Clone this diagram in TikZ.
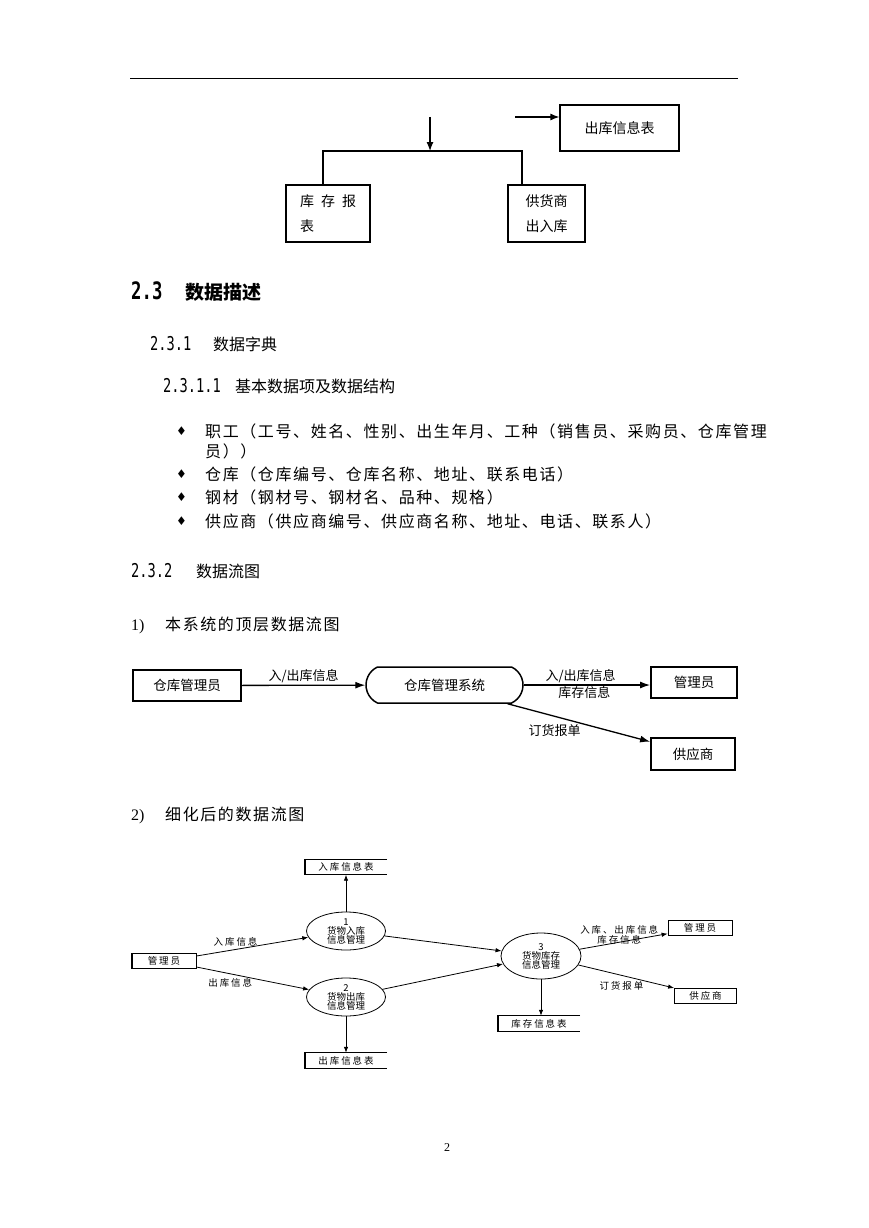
\documentclass[tikz,border=0pt]{standalone}
\usepackage{fontspec}
\setmainfont{Noto Sans CJK SC}
\newfontfamily\bodyfont{Noto Sans CJK SC}[LetterSpace=10]
\newfontfamily\dfdfont{Noto Sans CJK SC}[LetterSpace=20]
\newfontfamily\headnum{DejaVu Sans Mono}[FakeStretch=0.72]
\newfontfamily\numfont{Liberation Serif}
\newfontfamily\symfont{DejaVu Sans}
\usetikzlibrary{arrows.meta,positioning,shapes.geometric,shapes.misc}

\begin{document}
\begin{tikzpicture}[x=1pt,y=-1pt,>=Latex,line join=miter,
  frag/.style={draw,line width=1.2pt,inner sep=0pt,align=left,font=\fontsize{14}{25}\selectfont},
  dfbox/.style={draw,line width=1.8pt,inner sep=0pt,font=\fontsize{13.5}{14}\selectfont},
  sysshape/.style={draw,line width=1.5pt,rounded rectangle,rounded rectangle arc length=130,inner sep=0pt,font=\fontsize{13.5}{14}\selectfont},
  dflbl/.style={inner sep=1pt,font=\fontsize{13}{13}\selectfont},
  dfarrow/.style={-{Latex[length=10pt,width=7pt]},line width=1.3pt},
  proc/.style={draw,ellipse,line width=.8pt,minimum width=79,minimum height=38,inner sep=0pt,align=center,font=\fontsize{9.5}{9}\selectfont},
  store/.style={minimum width=82,minimum height=15,inner sep=0pt,font=\dfdfont\fontsize{9.5}{10}\selectfont},
  sbox/.style={draw,line width=.8pt,minimum height=15,inner sep=0pt,font=\dfdfont\fontsize{9.5}{10}\selectfont},
  slbl/.style={inner sep=1pt,font=\dfdfont\fontsize{9.5}{8}\selectfont,align=center},
  flow/.style={-{Latex[length=6pt,width=4.5pt]},line width=.8pt},
  head/.style={anchor=west,inner sep=0pt},
  body/.style={anchor=west,inner sep=0pt,font=\bodyfont\fontsize{16}{16}\selectfont}]
 \fill[white] (0,0) rectangle (869,1228);
 \useasboundingbox (0,0) rectangle (869,1228);
 \draw[line width=1pt] (130,79) -- (738,79);

 \node[frag,minimum width=84,minimum height=57] (stock) at (328,213.5) {库\kern7pt存\kern7pt报\\表};
 \node[frag,minimum width=77,minimum height=57] (supinout) at (546.5,213.5) {供货商\\出入库};
 \node[frag,minimum width=119,minimum height=46] (outlist) at (619.5,128) {出库信息表};
 \coordinate (junc) at (430,151);
 \coordinate (downsrc) at (430,117);
 \coordinate (outsrc) at (515,117);
 \draw[line width=1.2pt] ([xshift=-5]stock.north) |- (junc) -| ([xshift=-24.5]supinout.north);
 \draw[-{Latex[length=9pt,width=7pt]},line width=1.2pt] (downsrc) -- (junc);
 \draw[-{Latex[length=9pt,width=7pt]},line width=1.2pt] (outsrc) -- (outsrc -| outlist.west);

 \node[head,font=\bfseries\fontsize{19}{19}\selectfont] (sec23) at (131,292) {\makebox[54pt][l]{\headnum\fontsize{24}{24}\selectfont 2.3}数据描述};
 \node[head,font=\fontsize{16}{16}\selectfont] (sec231) at (150,344) {\makebox[63pt][l]{\headnum\fontsize{19}{19}\selectfont 2.3.1}数据字典};
 \node[head,font=\fontsize{16}{16}\selectfont] (sec2311) at (163,386) {\makebox[72pt][l]{\headnum\fontsize{19}{19}\selectfont 2.3.1.1}基本数据项及数据结构};
 \foreach \yy/\nm in {431/ba,474/bb,497/bc,521/bd}
  \node[head,font=\symfont\fontsize{12}{12}\selectfont] (\nm) at (176,\yy) {♦};
 \node[body] (itema) at (205,431) {职工（工号、姓名、性别、出生年月、工种（销售员、采购员、仓库管理};
 \node[body] (itema2) at (205,451) {员））};
 \node[body] (itemb) at (205,474) {仓库（仓库编号、仓库名称、地址、联系电话）};
 \node[body] (itemc) at (205,497) {钢材（钢材号、钢材名、品种、规格）};
 \node[body] (itemd) at (205,521) {供应商（供应商编号、供应商名称、地址、电话、联系人）};
 \node[head,font=\fontsize{16}{16}\selectfont] (sec232) at (131,571) {\makebox[65pt][l]{\headnum\fontsize{19}{19}\selectfont 2.3.2}数据流图};
 \node[head,font=\fontsize{16}{16}\selectfont] (cap1) at (131,625) {\makebox[34pt][l]{\numfont 1)}\bodyfont 本系统的顶层数据流图};
 \node[head,font=\fontsize{16}{16}\selectfont] (cap2) at (131,815) {\makebox[34pt][l]{\numfont 2)}\bodyfont 细化后的数据流图};

 \node[dfbox,minimum width=108,minimum height=31] (wkeeper) at (187,685.5) {仓库管理员};
 \node[sysshape,minimum width=157,minimum height=36] (wsys) at (444.5,685) {仓库管理系统};
 \node[dfbox,minimum width=86,minimum height=31] (wadmin) at (694,682.5) {管理员};
 \node[dfbox,minimum width=84,minimum height=32] (wsupp) at (693,754) {供应商};
 \draw[dfarrow] (wkeeper) -- node[dflbl,above=1pt] (lio) {入/出库信息} (wsys);
 \draw[dfarrow] (wsys.east) -- (wsys.east -| wadmin.west)
  node[dflbl,pos=.45,above=1pt] (lio2) {入/出库信息}
  node[dflbl,pos=.48,below=0pt] (lstock) {库存信息};
 \draw[dfarrow] ([xshift=63]wsys.south) -- (wsupp.164)
  node[dflbl,pos=.33,below=7pt] (lorder) {订货报单};

 \node[sbox,minimum width=64] (dmgr) at (164,961) {管理员};
 \node[proc] (p1) at (346,931) {1\\货物入库\\信息管理};
 \node[proc] (p2) at (346,997) {2\\货物出库\\信息管理};
 \node[proc,minimum width=80,minimum height=46] (p3) at (541,956) {3\\货物库存\\信息管理};
 \node[store] (intab) at (346,867) {入库信息表};
 \node[store] (outtab) at (346,1060.5) {出库信息表};
 \node[store] (stocktab) at (539,1023.5) {库存信息表};
 \node[sbox,minimum width=64] (dadmin) at (700,928) {管理员};
 \node[sbox,minimum width=62] (dsupp) at (705.5,995.5) {供应商};
 \foreach \s in {intab,outtab,stocktab}{
  \draw[line width=.8pt] (\s.north east) -| (\s.south west) -- (\s.south east);
  \draw[line width=2pt] (\s.north west) -- (\s.south west);
 }
 \draw[line width=2pt] (dmgr.north west) -- (dmgr.south west);
 \draw[flow] (p1) -- (intab);
 \draw[flow] (p2) -- (outtab);
 \draw[flow] (p3) -- (p3 |- stocktab.north);
 \draw[flow] ([yshift=5]dmgr.east) -- node[slbl,pos=.35,above=2pt] (lin) {入库信息} (p1);
 \draw[flow] ([yshift=-6]dmgr.east) -- node[slbl,pos=.3,below=3pt] (lout) {出库信息} (p2);
 \draw[flow] (p1) -- (p3);
 \draw[flow] (p2) -- (p3);
 \draw[flow] (p3) -- node[slbl,pos=.45,above=-3pt] (lio3) {入库、出库信息\\库存信息} (dadmin);
 \draw[flow] (p3) -- node[slbl,pos=.45,below=5pt] (lorder2) {订货报单} (dsupp);

 \node[inner sep=0pt,font=\numfont\fontsize{12}{12}\selectfont] (pageno) at (447,1148) {2};
\end{tikzpicture}
\end{document}
